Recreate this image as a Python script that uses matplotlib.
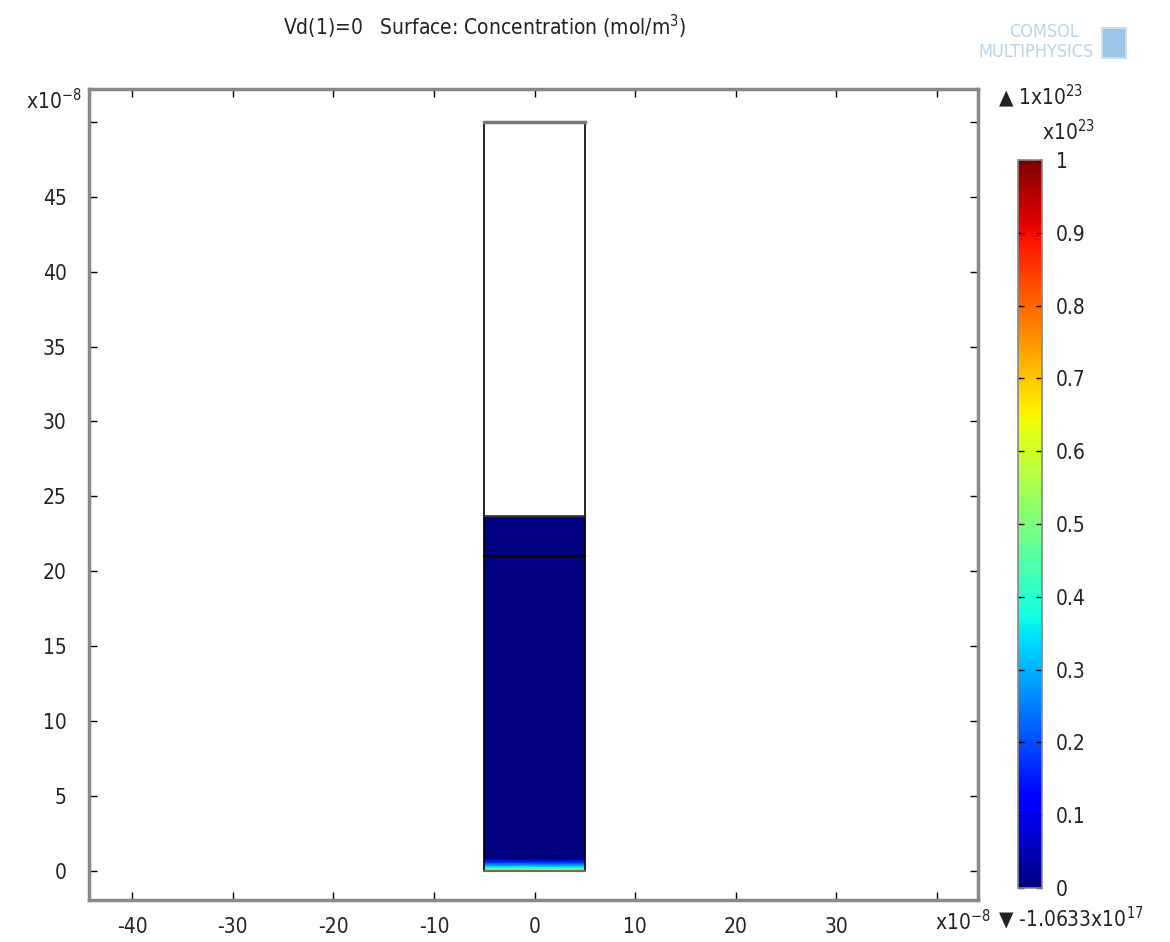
import matplotlib.pyplot as plt
import matplotlib.patches as mpatches
import numpy as np

# geometry (units of 1e-8 m)
x_left, x_right = -5, 5
y_top = 50
fill_top = 23.7
inner_lines = [21.0]
dark_line = 0.93

# concentration profile near the bottom (units of 1e23 mol/m^3)
prof_y = [0.0, 0.08, 0.2, 0.35, 0.55, 0.75, 0.95, 23.7]
prof_c = [1.0, 0.5, 0.42, 0.3, 0.18, 0.06, 0.0, 0.0]

xticks = [-40, -30, -20, -10, 0, 10, 20, 30, 40]
yticks = [0, 5, 10, 15, 20, 25, 30, 35, 40, 45, 50]
cb_ticks = [0, 0.1, 0.2, 0.3, 0.4, 0.5, 0.6, 0.7, 0.8, 0.9, 1]

plt.rcParams['font.family'] = ['DejaVu Sans']
plt.rcParams['font.stretch'] = 'condensed'
plt.rcParams['mathtext.default'] = 'regular'
txt = '#222222'
spine = '#888888'
fs = 15

fig = plt.figure(figsize=(11.7, 9.42), dpi=100)
ax = fig.add_axes([0.0761, 0.0446, 0.7598, 0.861])

# concentration field
xs = np.array([x_left, x_right])
ys = np.array(prof_y)
C = np.tile(np.array(prof_c)[:, None], (1, 2))
X, Y = np.meshgrid(xs, ys)
mesh = ax.pcolormesh(X, Y, C, cmap='jet', vmin=0, vmax=1, shading='gouraud')

# domain outlines
ax.plot([x_left, x_left], [0, y_top], color='black', lw=1.2)
ax.plot([x_right, x_right], [0, y_top], color='black', lw=1.2)
ax.plot([x_left, x_right], [y_top, y_top], color='#777777', lw=2.5)
ax.plot([x_left, x_right], [0, 0], color='#8a6050', lw=1.5)
ax.plot([x_left, x_right], [fill_top, fill_top], color='#333333', lw=1.0)
ax.plot([x_left, x_right], [dark_line, dark_line], color='#000033', lw=1.0, alpha=0.7)
for yl in inner_lines:
    ax.plot([x_left, x_right], [yl, yl], color='black', lw=1.5)

ax.set_xlim(-44.3, 44.1)
ax.set_ylim(-1.95, 52.2)
ax.set_xticks(xticks)
ax.set_xticklabels([str(t) for t in xticks[:-1]] + [''])
ax.set_yticks(yticks)
ax.set_yticklabels([str(t) for t in yticks[:-1]] + [''])
ax.tick_params(direction='in', length=6, width=1, color='black', top=True, right=True,
               labelsize=fs, labelcolor=txt, pad=12)
ax.tick_params(axis='y', pad=16)
for s in ax.spines.values():
    s.set_color(spine)
    s.set_linewidth(2.5)

ax.text(42.6, -3.4, r'x10$^{-8}$', ha='center', va='center', fontsize=fs, color=txt,
        clip_on=False)
ax.text(-45.0, 51.4, r'x10$^{-8}$', ha='right', va='center', fontsize=fs, color=txt)

fig.text(0.414, 0.971, r'Vd(1)=0   Surface: Concentration (mol/m$^3$)', ha='center',
         va='center', fontsize=fs, color=txt)

# logo text
logo = '#b8d4ea'
fig.text(0.922, 0.966, 'COMSOL', ha='right', va='center', fontsize=13, color=logo)
fig.text(0.935, 0.945, 'MULTIPHYSICS', ha='right', va='center', fontsize=13, color=logo)
fig.patches.append(mpatches.Rectangle((0.942, 0.938), 0.020, 0.032, transform=fig.transFigure,
                                      facecolor='#9cc4e4', edgecolor='#c8def0', lw=1.5))

# colorbar
cax = fig.add_axes([0.870, 0.0573, 0.0205, 0.7728])
cb = fig.colorbar(mesh, cax=cax, ticks=cb_ticks)
cb.ax.set_yticklabels([str(t) for t in cb_ticks])
cb.ax.tick_params(direction='in', length=4, width=1, color='black', labelsize=fs,
                  labelcolor=txt, left=True, right=True, pad=10)
cb.outline.set_edgecolor(spine)
cb.outline.set_linewidth(1.2)

fig.text(0.913, 0.860, r'x10$^{23}$', ha='center', va='center', fontsize=fs, color=txt)
fig.text(0.853, 0.898, '\u25b2 1x10$^{23}$', ha='left', va='center', fontsize=fs, color=txt)
fig.text(0.853, 0.025, '\u25bc -1.0633x10$^{17}$', ha='left', va='center',
         fontsize=fs, color=txt)

fig.savefig('out.png', dpi=100)
